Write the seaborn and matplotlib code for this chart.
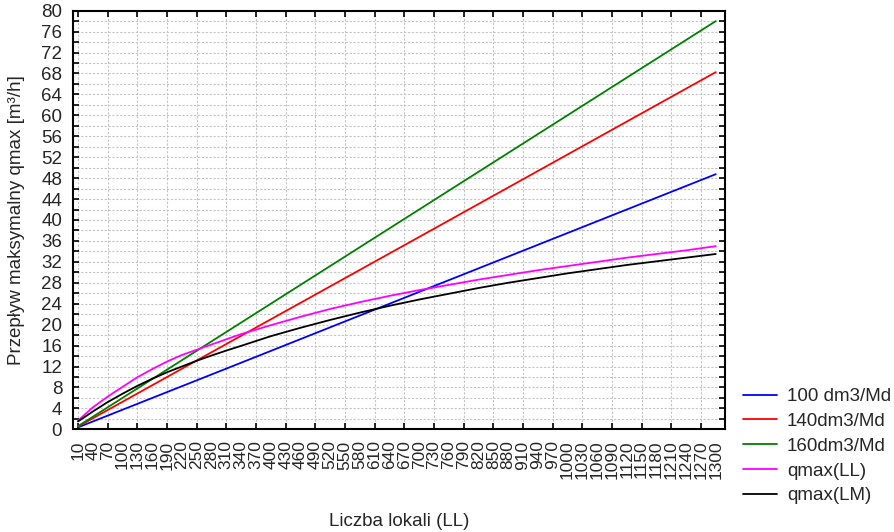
import matplotlib
matplotlib.use("Agg")
import matplotlib.pyplot as plt
import seaborn as sns
import pandas as pd
from matplotlib.ticker import FixedLocator, MultipleLocator

# ---- data ----
names = ["100 dm3/Md", "140dm3/Md", "160dm3/Md", "qmax(LL)", "qmax(LM)"]
colors = ["#0000ff", "#ff0000", "#008000", "#ff00ff", "#000000"]

lin_x = [10, 310, 700, 1000, 1300]
q_100 = [0.375, 11.6, 26.25, 37.5, 48.75]
q_140 = [0.525, 16.3, 36.75, 52.5, 68.25]
q_160 = [0.6, 18.6, 42.0, 60.0, 78.0]

curve_x = [10, 40, 70, 100, 130, 160, 190, 220, 250, 280, 310, 340, 400, 460,
           520, 580, 640, 700, 760, 820, 880, 940, 1000, 1060, 1120, 1180, 1240, 1300]
qmax_ll = [1.66, 4.2, 6.25, 8.1, 9.95, 11.5, 12.95, 14.2, 15.2, 16.2, 17.2, 18.2, 19.9, 21.5,
           23.0, 24.3, 25.5, 26.6, 27.6, 28.6, 29.5, 30.4, 31.2, 32.0, 32.8, 33.5, 34.2, 35.0]
qmax_lm = [1.5, 3.4, 5.2, 6.8, 8.3, 9.65, 10.9, 12.0, 13.1, 14.1, 15.05, 15.95, 17.8, 19.4,
           20.9, 22.3, 23.6, 24.8, 25.9, 27.0, 28.0, 28.9, 29.8, 30.6, 31.4, 32.1, 32.8, 33.5]

x_ticks_main = list(range(10, 1301, 60))    # tick marks + grid + label
x_ticks_between = list(range(40, 1301, 60))  # label only

df = pd.concat([
    pd.DataFrame({"LL": lin_x, "q": q_100, "seria": names[0]}),
    pd.DataFrame({"LL": lin_x, "q": q_140, "seria": names[1]}),
    pd.DataFrame({"LL": lin_x, "q": q_160, "seria": names[2]}),
    pd.DataFrame({"LL": curve_x, "q": qmax_ll, "seria": names[3]}),
    pd.DataFrame({"LL": curve_x, "q": qmax_lm, "seria": names[4]}),
], ignore_index=True)

sns.set_style("ticks")
plt.rcParams["font.family"] = ["Liberation Sans", "DejaVu Sans"]
FS = 13.5
XFS = 12.5

fig = plt.figure(figsize=(8.94, 5.32), dpi=100)
ax = fig.add_axes([0.082, 0.193, 0.7286, 0.787])

sns.lineplot(data=df, x="LL", y="q", hue="seria", hue_order=names,
             palette=colors, linewidth=1.3, errorbar=None, sort=True, ax=ax)

ax.set_xlim(0.5, 1318)
ax.set_ylim(0, 80)

# x ticks: marks + grid every 60, labels every 30
ax.set_xticks(x_ticks_main)
ax.set_xticklabels([str(v) for v in x_ticks_main], rotation=90, fontsize=XFS)
ax.set_xticks(x_ticks_between, minor=True)
ax.set_xticklabels([str(v) for v in x_ticks_between], minor=True, rotation=90, fontsize=XFS)
ax.tick_params(axis="x", which="major", length=4, width=1.2, direction="in",
               top=True, bottom=True, color="black", pad=8)
ax.tick_params(axis="x", which="minor", length=0, top=False, pad=8)

# y ticks: labels every 4, ticks/grid every 2
ax.yaxis.set_major_locator(MultipleLocator(4))
ax.yaxis.set_minor_locator(MultipleLocator(2))
ax.tick_params(axis="y", which="both", length=4, width=1.2, direction="in",
               left=True, right=True, labelsize=FS, pad=8, color="black")

grid_kw = dict(color="#c4c4c4", linestyle=(0, (2, 1.5)), linewidth=0.8)
ax.xaxis.grid(True, which="major", **grid_kw)
ax.yaxis.grid(True, which="both", **grid_kw)
ax.set_axisbelow(True)

for sp in ax.spines.values():
    sp.set_visible(True)
    sp.set_linewidth(1.5)
    sp.set_color("black")

ax.set_xlabel("Liczba lokali (LL)", fontsize=FS, labelpad=24)
ax.set_ylabel("Przepływ maksymalny qmax [m³/h]", fontsize=FS, labelpad=12)

handles, labels = ax.get_legend_handles_labels()
ax.get_legend().remove()
fig.legend(handles, labels, loc="upper left", bbox_to_anchor=(0.831, 0.2707),
           frameon=False, fontsize=FS, handlelength=1.8, handletextpad=0.55,
           labelspacing=0.41, borderpad=0, borderaxespad=0)

fig.savefig("out.png", dpi=100)
